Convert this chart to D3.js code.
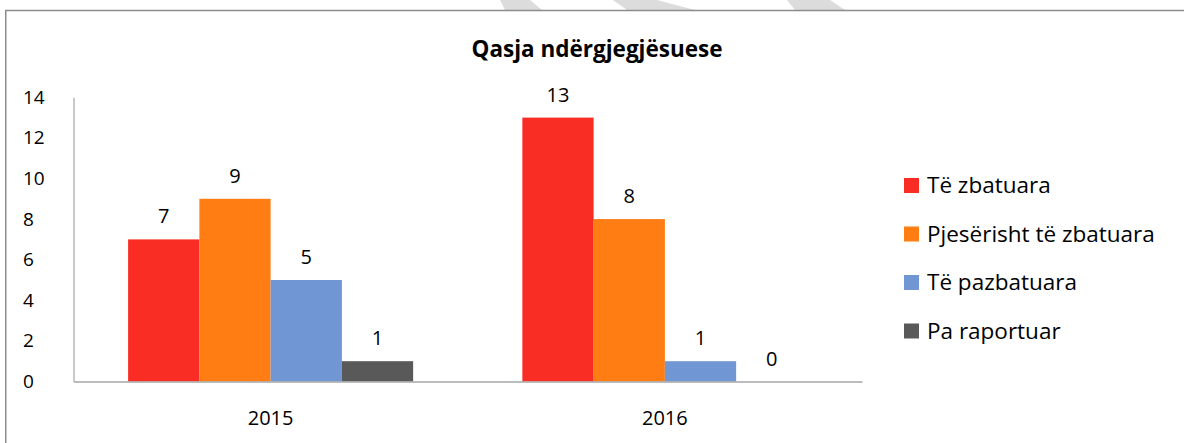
<!DOCTYPE html>
<html>
<head>
<meta charset="utf-8">
<script src="https://cdn.jsdelivr.net/npm/d3@7"></script>
<style>
    body { margin: 0; background: #fff; }
    svg text { font-family: "Open Sans", Lato, sans-serif; fill: #000; }
</style>
</head>
<body>
<div id="chart"></div>
<script>
// data
let categories = ["2015", "2016"];
let seriesNames = ["Të zbatuara", "Pjesërisht të zbatuara", "Të pazbatuara", "Pa raportuar"];
let valuesZbatuara = [7, 13];
let valuesPjeserisht = [9, 8];
let valuesPazbatuara = [5, 1];
let valuesRaportuar = [1, 0];
let yTicks = [0, 2, 4, 6, 8, 10, 12, 14];
let seriesColors = ["#F92D23", "#FF7D12", "#7097D3", "#595959"];

let seriesValues = [valuesZbatuara, valuesPjeserisht, valuesPazbatuara, valuesRaportuar];

let width = 1184, height = 443;

let svg = d3.select("#chart")
    .append("svg")
    .attr("width", width)
    .attr("height", height);

// faint watermark stripes at the very top
let stripes = [
    [[500, 0], [530, 0], [542, 10], [505, 10]],
    [[613, 0], [657, 0], [695, 10], [627, 10]],
    [[787, 0], [830, 0], [845, 10], [795, 10]]
];
svg.selectAll(".stripe")
    .data(stripes)
    .enter().append("polygon")
    .attr("points", function(d){ return d.map(function(p){ return p.join(","); }).join(" "); })
    .attr("fill", "#dcdcdc");

// outer frame (runs off the right/bottom edge)
svg.append("path")
    .attr("d", "M5.75," + height + "V10.5H" + width)
    .attr("fill", "none")
    .attr("stroke", "#8c8c8c")
    .attr("stroke-width", 1.5);

let plotLeft = 73.5, plotRight = 862, plotTop = 97.3, plotBottom = 381.5;

let xScale = d3.scaleBand()
    .domain(categories)
    .range([plotLeft, plotRight])
    .paddingInner(0.277)
    .paddingOuter(0.1385);

let xInner = d3.scaleBand()
    .domain(d3.range(seriesNames.length))
    .range([0, xScale.bandwidth()]);

let yScale = d3.scaleLinear()
    .domain([0, 14])
    .range([plotBottom, plotTop]);

// title
svg.append("text")
    .attr("x", 597)
    .attr("y", 57)
    .attr("text-anchor", "middle")
    .style("font-size", "22.5px")
    .style("font-weight", "bold")
    .text("Qasja ndërgjegjësuese");

// y axis
let yAxis = svg.append("g")
    .attr("transform", "translate(" + plotLeft + ",0)")
    .call(d3.axisLeft(yScale).tickValues(yTicks).tickSize(0).tickPadding(0));
yAxis.select(".domain").attr("stroke", "#a6a6a6").attr("stroke-width", 1.2);
yAxis.selectAll(".tick text")
    .attr("x", 23 - plotLeft)
    .attr("text-anchor", "start")
    .style("font-size", "19px")
    .style("font-family", "'Open Sans', sans-serif");

// bars
let groups = svg.selectAll(".series")
    .data(seriesValues)
    .enter().append("g")
    .attr("class", "series")
    .attr("fill", function(d, i){ return seriesColors[i]; });

groups.each(function(vals, si){
    let g = d3.select(this);
    g.selectAll("rect")
        .data(vals)
        .enter().append("rect")
        .attr("x", function(d, ci){ return xScale(categories[ci]) + xInner(si); })
        .attr("width", xInner.bandwidth())
        .attr("y", function(d){ return yScale(d); })
        .attr("height", function(d){ return yScale(0) - yScale(d); });

    g.selectAll("text")
        .data(vals)
        .enter().append("text")
        .attr("x", function(d, ci){ return xScale(categories[ci]) + xInner(si) + xInner.bandwidth() / 2; })
        .attr("y", function(d){ return yScale(d) - 16; })
        .attr("text-anchor", "middle")
        .style("font-size", "20px")
        .style("fill", "#000")
        .text(function(d){ return d; });
});

// x axis
let xAxis = svg.append("g")
    .attr("transform", "translate(0," + plotBottom + ")")
    .call(d3.axisBottom(xScale).tickSize(0).tickPadding(0));
xAxis.select(".domain").attr("stroke", "#a6a6a6").attr("stroke-width", 1.5);
xAxis.selectAll(".tick text")
    .attr("y", 0)
    .attr("dy", "43px")
    .style("font-size", "20px")
    .style("font-family", "'Open Sans', sans-serif");

// legend
let legend = svg.selectAll(".legend")
    .data(seriesNames)
    .enter().append("g")
    .attr("class", "legend")
    .attr("transform", function(d, i){ return "translate(904," + (185.5 + i * 48.5) + ")"; });

legend.append("rect")
    .attr("x", 0)
    .attr("y", -7.5)
    .attr("width", 15)
    .attr("height", 15)
    .attr("fill", function(d, i){ return seriesColors[i]; });

legend.append("text")
    .attr("x", 23)
    .attr("y", 0)
    .attr("dy", "0.35em")
    .style("font-size", "22.5px")
    .text(function(d){ return d; });
</script>
</body>
</html>
